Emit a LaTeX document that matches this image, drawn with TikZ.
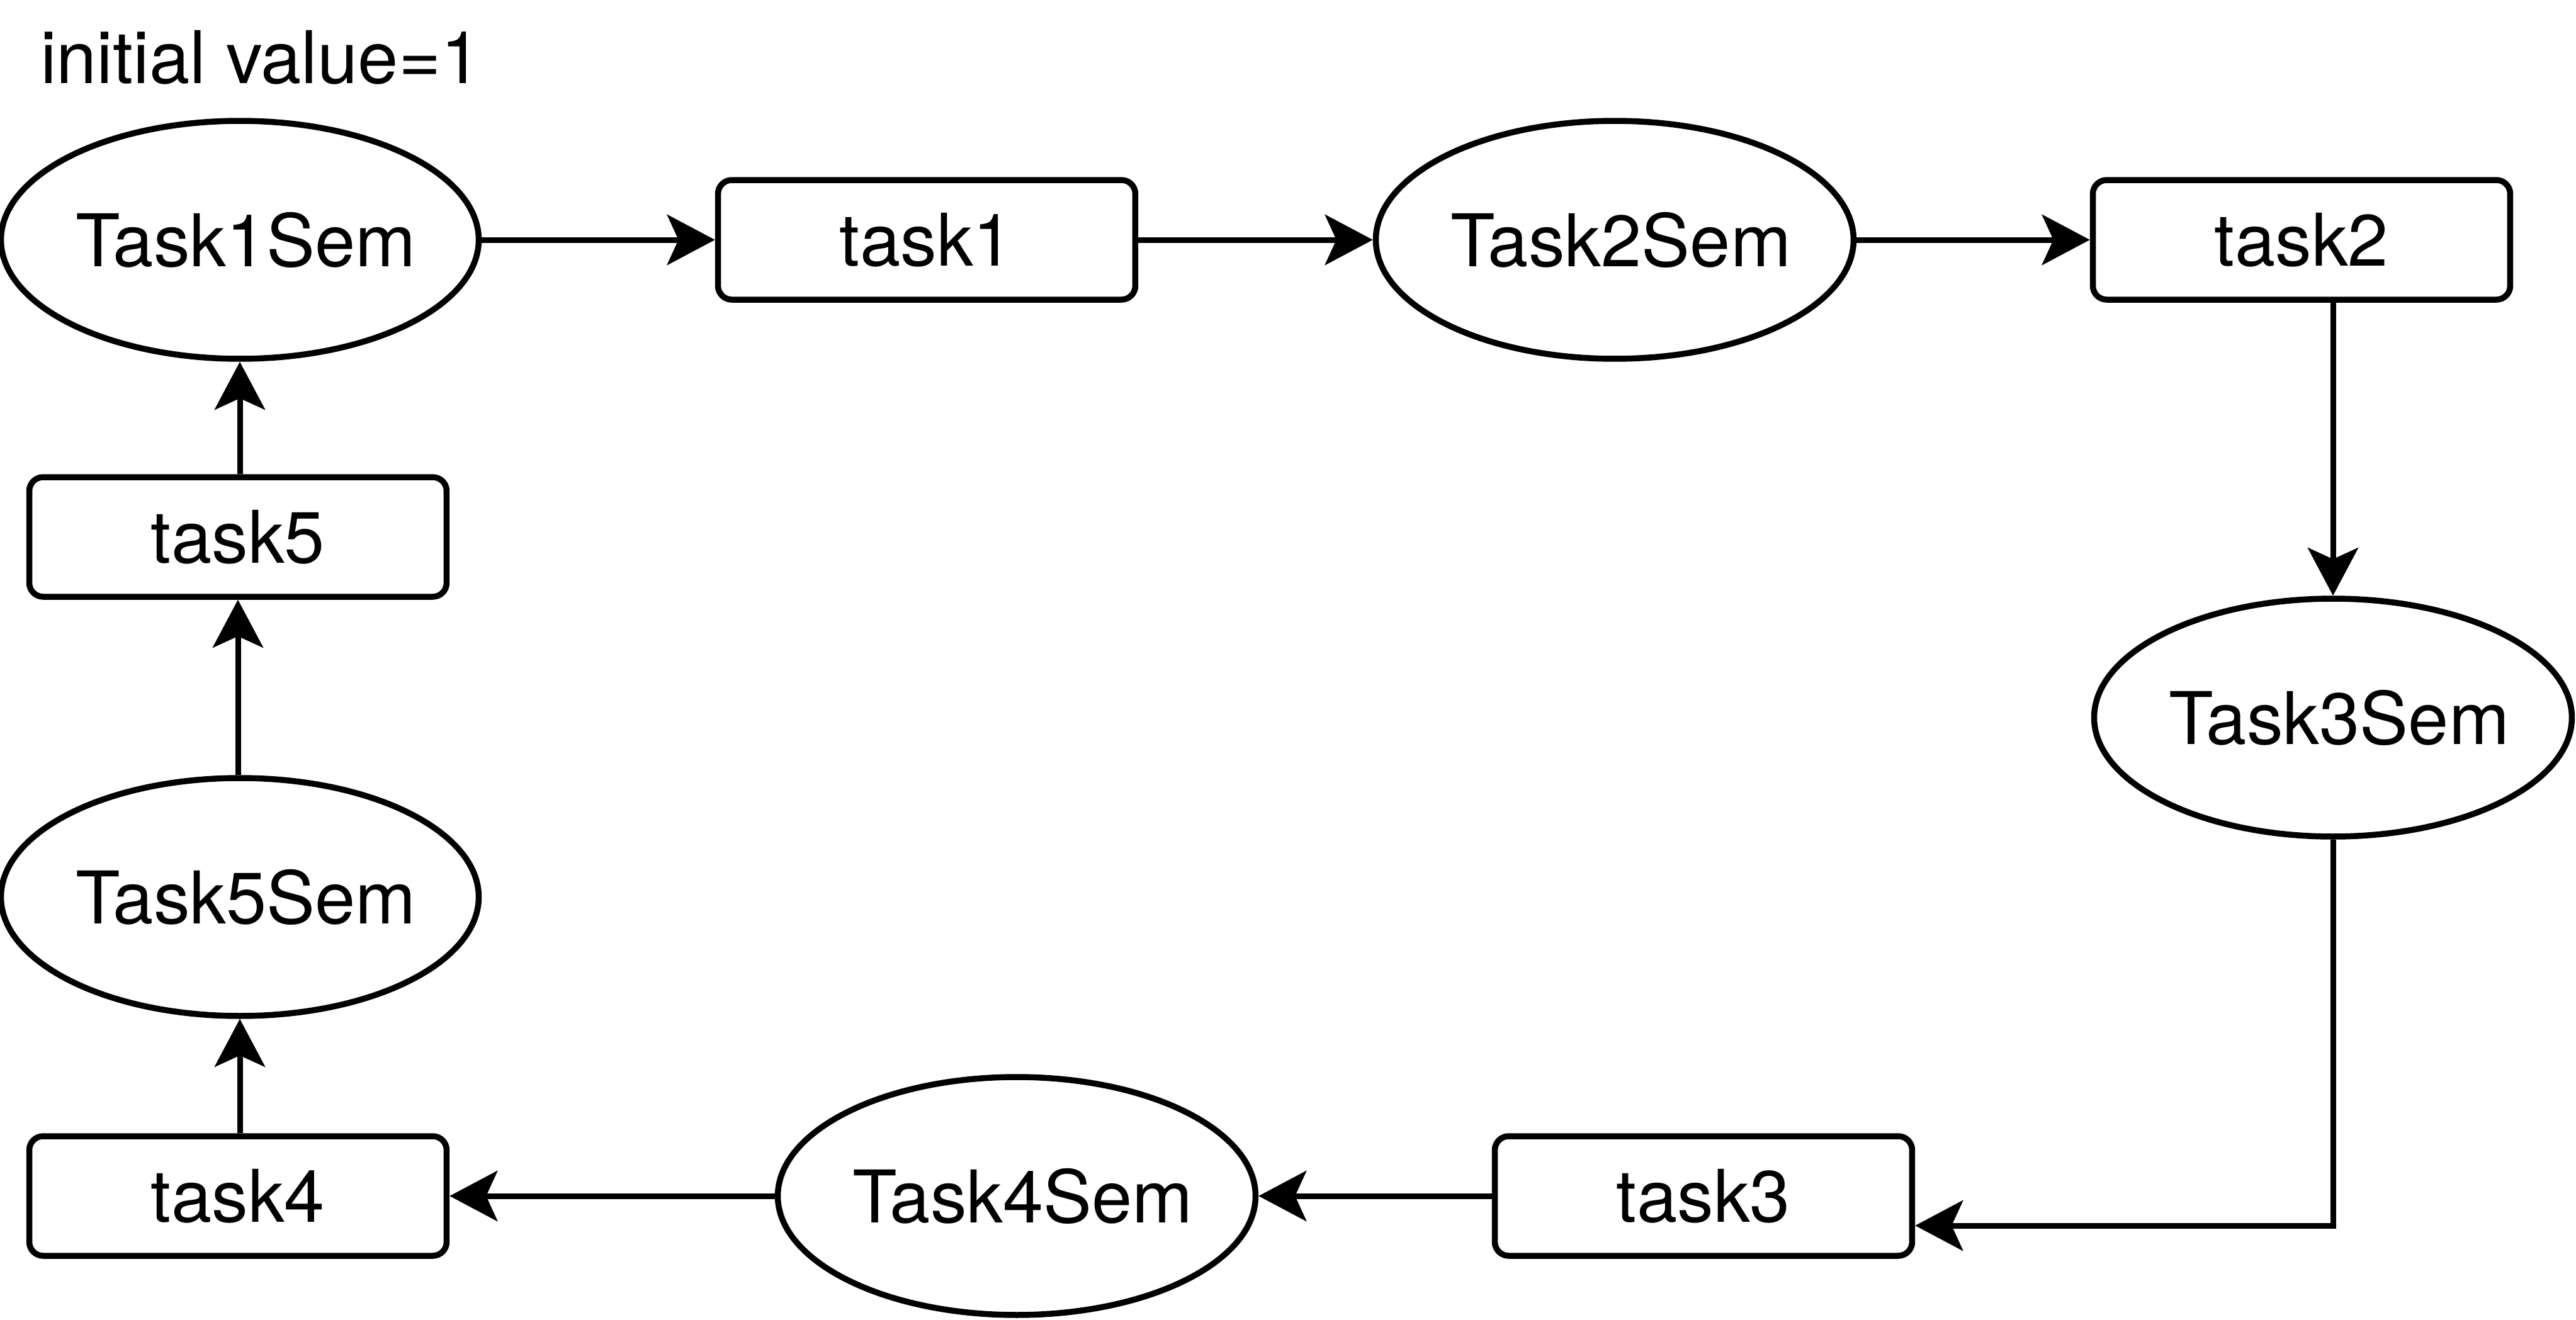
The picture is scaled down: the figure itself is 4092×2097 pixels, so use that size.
\documentclass[tikz,border=0pt]{standalone}
\usepackage{fontspec}
\setmainfont{TeX Gyre Heros}
\usetikzlibrary{shapes.geometric,arrows.meta}
% ellipse labels sit slightly right of centre; the zero-width box keeps the shape size fixed
\newcommand{\semlabel}[1]{\makebox[0pt]{\hspace*{2pt}#1}}
\begin{document}
\begin{tikzpicture}[x=0.1pt,y=-0.1pt,
  font=\fontsize{11.55pt}{13.5pt}\selectfont,
  semnode/.style={ellipse,draw,line width=0.95pt,minimum width=75.9pt,minimum height=37.8pt,inner sep=0pt},
  taskbox/.style={rectangle,draw,line width=0.95pt,rounded corners=2.2pt,minimum width=66.3pt,minimum height=19pt,inner sep=0pt},
  arr/.style={line width=0.9pt,-{Stealth[length=7.6pt,width=8pt,inset=1.8pt]}}]
\useasboundingbox (0,0) rectangle (4092,2097);

\node[anchor=west,inner sep=0pt] (init) at (62,91) {initial value=1};

\node[semnode] (T1) at (381,381) {\semlabel{Task1Sem}};
\node[taskbox] (t1) at (1472,381) {task1};
\node[semnode] (T2) at (2565,381) {\semlabel{Task2Sem}};
\node[taskbox] (t2) at (3656,381) {task2};
\node[semnode] (T3) at (3706,1140) {\semlabel{Task3Sem}};
\node[taskbox] (t3) at (2706,1900) {task3};
\node[semnode] (T4) at (1615,1900) {\semlabel{Task4Sem}};
\node[taskbox] (t4) at (378,1900) {task4};
\node[semnode] (T5) at (381,1425) {\semlabel{Task5Sem}};
\node[taskbox] (t5) at (378,853) {task5};

\draw[arr] (T1) -- (t1);
\draw[arr] (t1) -- (T2);
\draw[arr] (T2) -- (t2);
\draw[arr] (t2.south -| T3.north) -- (T3.north);
\draw[arr] (T3.south) |- ([yshift=-4.7pt]t3.east);
\draw[arr] (t3) -- (T4);
\draw[arr] (T4) -- (t4);
\draw[arr] (t4.north -| T5.south) -- (T5.south);
\draw[arr] (T5.north -| t5.south) -- (t5.south);
\draw[arr] (t5.north -| T1.south) -- (T1.south);
\end{tikzpicture}
\end{document}
